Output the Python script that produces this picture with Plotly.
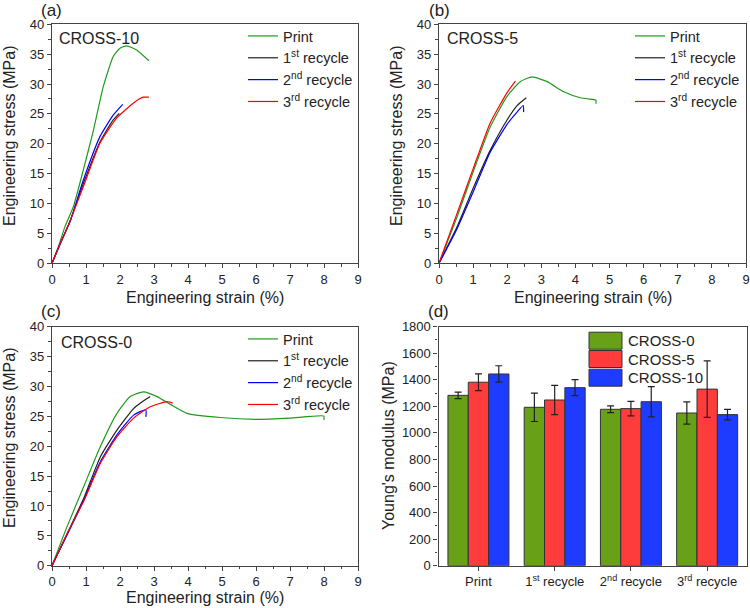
import plotly.graph_objects as go

FONT = "Liberation Sans, Arial, sans-serif"
W, H = 750, 608

# ---------------- data ----------------
series_names = ["Print", "1<sup>st</sup> recycle", "2<sup>nd</sup> recycle", "3<sup>rd</sup> recycle"]
line_colors = ["#1f9a1f", "#202020", "#0000ff", "#ff0000"]

# (a) CROSS-10
a_print_x = [0, 0.2, 0.38, 0.63, 0.92, 1.22, 1.51, 1.80, 2.0, 2.2, 2.49, 2.85]
a_print_y = [0, 3.0, 6.1, 9.5, 15.6, 22.3, 29.6, 34.6, 36.0, 36.4, 35.7, 33.9]
a_r1_x = [0, 0.25, 0.53, 0.92, 1.41, 1.80, 1.98]
a_r1_y = [0, 3.4, 7.0, 13.3, 20.3, 24.0, 25.1]
a_r2_x = [0, 0.25, 0.53, 0.92, 1.41, 1.80, 2.08]
a_r2_y = [0, 3.4, 7.0, 13.9, 21.2, 24.8, 26.6]
a_r3_x = [0, 0.25, 0.53, 0.92, 1.41, 1.90, 2.39, 2.68, 2.85]
a_r3_y = [0, 3.4, 7.1, 12.8, 20.1, 24.3, 26.8, 27.8, 27.8]

# (b) CROSS-5
b_print_x = [0, 0.53, 1.02, 1.50, 1.99, 2.38, 2.73, 3.17, 3.66, 4.14, 4.54, 4.6, 4.6]
b_print_y = [0, 7.8, 15.6, 22.8, 27.9, 30.4, 31.2, 30.4, 28.7, 27.7, 27.4, 27.3, 26.7]
b_r1_x = [0, 0.53, 1.02, 1.50, 1.99, 2.29, 2.56]
b_r1_y = [0, 6.1, 12.8, 18.9, 23.95, 26.4, 27.7]
b_r2_x = [0, 0.53, 1.02, 1.50, 2.0, 2.3, 2.47, 2.48]
b_r2_y = [0, 5.8, 12.2, 18.6, 23.3, 25.4, 26.4, 25.3]
b_r3_x = [0, 0.5, 1.0, 1.5, 2.0, 2.24]
b_r3_y = [0, 7.9, 15.8, 23.5, 28.6, 30.5]

# (c) CROSS-0
c_print_x = [0, 0.44, 0.93, 1.42, 1.91, 2.30, 2.69, 3.09, 3.48, 3.97, 4.95, 6.03, 7.0, 7.99, 8.0]
c_print_y = [0, 6.5, 13.2, 19.9, 25.5, 28.3, 29.1, 28.3, 27.0, 25.5, 24.8, 24.5, 24.7, 25.05, 24.4]
c_r1_x = [0, 0.5, 0.95, 1.42, 1.91, 2.4, 2.75, 2.89]
c_r1_y = [0, 6.0, 11.5, 18.2, 22.7, 26.3, 27.8, 28.3]
c_r2_x = [0, 0.5, 0.95, 1.42, 1.91, 2.4, 2.76, 2.76]
c_r2_y = [0, 5.8, 11.2, 17.4, 21.9, 25.2, 26.1, 24.9]
c_r3_x = [0, 0.5, 0.95, 1.42, 1.91, 2.4, 2.89, 3.38, 3.55]
c_r3_y = [0, 6.0, 11.0, 17.1, 21.6, 24.7, 26.6, 27.45, 27.2]

# (d) Young's modulus
bar_categories = ["Print", "1st recycle", "2nd recycle", "3rd recycle"]
bar_ticktext = ["Print", "1<sup>st</sup> recycle", "2<sup>nd</sup> recycle", "3<sup>rd</sup> recycle"]
bar_names = ["CROSS-0", "CROSS-5", "CROSS-10"]
bar_colors = ["#68a018", "#ff3c3c", "#1e3cff"]
mod_cross0 = [1283, 1193, 1178, 1150]
err_cross0 = [25, 107, 25, 84]
mod_cross5 = [1382, 1248, 1183, 1330]
err_cross5 = [63, 110, 55, 213]
mod_cross10 = [1444, 1341, 1235, 1138]
err_cross10 = [62, 60, 114, 40]

# ---------------- layout helpers ----------------
def px_x(p):
    return p / W

def px_y(p):
    return 1 - p / H

panels = {
    "a": dict(x=(52, 358), y=(24.3, 263.3)),
    "b": dict(x=(439, 746), y=(24.3, 263.3)),
    "c": dict(x=(52, 358), y=(326.7, 565.7)),
    "d": dict(x=(438.5, 746.5), y=(326.7, 565.7)),
}

fig = go.Figure()

line_sets = [
    ("a", "x", "y", "legend", [(a_print_x, a_print_y), (a_r1_x, a_r1_y), (a_r2_x, a_r2_y), (a_r3_x, a_r3_y)]),
    ("b", "x2", "y2", "legend2", [(b_print_x, b_print_y), (b_r1_x, b_r1_y), (b_r2_x, b_r2_y), (b_r3_x, b_r3_y)]),
    ("c", "x3", "y3", "legend3", [(c_print_x, c_print_y), (c_r1_x, c_r1_y), (c_r2_x, c_r2_y), (c_r3_x, c_r3_y)]),
]
for key, xa, ya, lg, data in line_sets:
    for (xs, ys), name, col in zip(data, series_names, line_colors):
        fig.add_trace(go.Scatter(
            x=xs, y=ys, mode="lines", name=name, xaxis=xa, yaxis=ya, legend=lg,
            line=dict(color=col, width=1.2, shape="spline", smoothing=0.5),
        ))

for name, vals, errs, col in zip(bar_names, [mod_cross0, mod_cross5, mod_cross10],
                                 [err_cross0, err_cross5, err_cross10], bar_colors):
    fig.add_trace(go.Bar(
        x=bar_categories, y=vals, name=name, xaxis="x4", yaxis="y4", showlegend=False,
        marker=dict(color=col, line=dict(color="#333333", width=1)),
        error_y=dict(type="data", array=errs, color="#222222", thickness=1.2, width=3.5),
    ))

axis_common = dict(
    showline=True, mirror=True, linecolor="#444444", linewidth=1.2,
    ticks="outside", ticklen=4, tickwidth=1, tickcolor="#444444",
    showgrid=False, zeroline=False, automargin=False,
    tickfont=dict(family=FONT, size=13, color="#222222"),
)
minor_common = dict(ticks="outside", ticklen=2.5, tickcolor="#444444")

layout = dict(
    template="none",
    width=W, height=H, autosize=False,
    margin=dict(l=0, r=0, t=0, b=0, pad=0),
    paper_bgcolor="white", plot_bgcolor="white",
    font=dict(family=FONT, color="#222222"),
    barmode="group", bargap=0.2, bargroupgap=0,
)

axis_ids = {"a": ("xaxis", "yaxis", "y", "x"), "b": ("xaxis2", "yaxis2", "y2", "x2"),
            "c": ("xaxis3", "yaxis3", "y3", "x3"), "d": ("xaxis4", "yaxis4", "y4", "x4")}
for key, (xk, yk, yanc, xanc) in axis_ids.items():
    p = panels[key]
    xd = [px_x(p["x"][0]), px_x(p["x"][1])]
    yd = [px_y(p["y"][1]), px_y(p["y"][0])]
    if key != "d":
        layout[xk] = dict(axis_common, domain=xd, anchor=yanc, range=[0, 9], dtick=1, tick0=0,
                          minor=dict(minor_common, dtick=0.5))
        layout[yk] = dict(axis_common, domain=yd, anchor=xanc, range=[0, 40], dtick=5, tick0=0,
                          minor=dict(minor_common, dtick=2.5))
    else:
        layout[xk] = dict(axis_common, domain=xd, anchor=yanc, range=[-0.524, 3.516],
                          tickvals=bar_categories, ticktext=bar_ticktext, type="category")
        layout[yk] = dict(axis_common, domain=yd, anchor=xanc, range=[0, 1800], dtick=200, tick0=0,
                          minor=dict(minor_common, dtick=100))

legend_pos = {"legend": (243, 20), "legend2": (630, 20), "legend3": (243, 323)}
for lg, (lx, ly) in legend_pos.items():
    layout[lg] = dict(x=px_x(lx), y=px_y(ly), xanchor="left", yanchor="top",
                      bgcolor="rgba(0,0,0,0)", borderwidth=0,
                      font=dict(family=FONT, size=14.5, color="#222222"))

annotations = []
def ann(text, x, y, size=16, xanchor="left", yanchor="middle", angle=0):
    annotations.append(dict(text=text, x=px_x(x), y=px_y(y), xref="paper", yref="paper",
                            showarrow=False, xanchor=xanchor, yanchor=yanchor, textangle=angle,
                            font=dict(family=FONT, size=size, color="#222222")))

panel_labels = ["(a)", "(b)", "(c)", "(d)"]
panel_label_pos = [(39, 10), (427, 10), (39, 311), (426, 311)]
for t, (x, y) in zip(panel_labels, panel_label_pos):
    ann(t, x, y, size=17)

sample_names = ["CROSS-10", "CROSS-5", "CROSS-0"]
sample_pos = [(57, 38.5), (445, 38.5), (59, 342.5)]
for t, (x, y) in zip(sample_names, sample_pos):
    ann(t, x, y, size=16)

# axis titles
ann("Engineering strain (%)", 205, 298, xanchor="center")
ann("Engineering strain (%)", 592.5, 298, xanchor="center")
ann("Engineering strain (%)", 205, 597.5, xanchor="center")
ann("Engineering stress (MPa)", 9, 136, xanchor="center", angle=-90)
ann("Engineering stress (MPa)", 396, 136, xanchor="center", angle=-90)
ann("Engineering stress (MPa)", 9, 438, xanchor="center", angle=-90)
ann("Young's modulus (MPa)", 388, 446, xanchor="center", angle=-90)

# custom legend for panel (d)
shapes = []
leg_rows = [340.7, 359.0, 377.7]
for name, col, cy in zip(bar_names, bar_colors, leg_rows):
    shapes.append(dict(type="rect", xref="paper", yref="paper",
                       x0=px_x(589), x1=px_x(622), y0=px_y(cy + 8.5), y1=px_y(cy - 8.5),
                       fillcolor=col, line=dict(color="#333333", width=1)))
    ann(name, 626, cy, size=15)

layout["annotations"] = annotations
layout["shapes"] = shapes
fig.update_layout(**layout)
fig.write_html("out.html", config={"displayModeBar": False},
               post_script="document.body.style.margin='0';")
